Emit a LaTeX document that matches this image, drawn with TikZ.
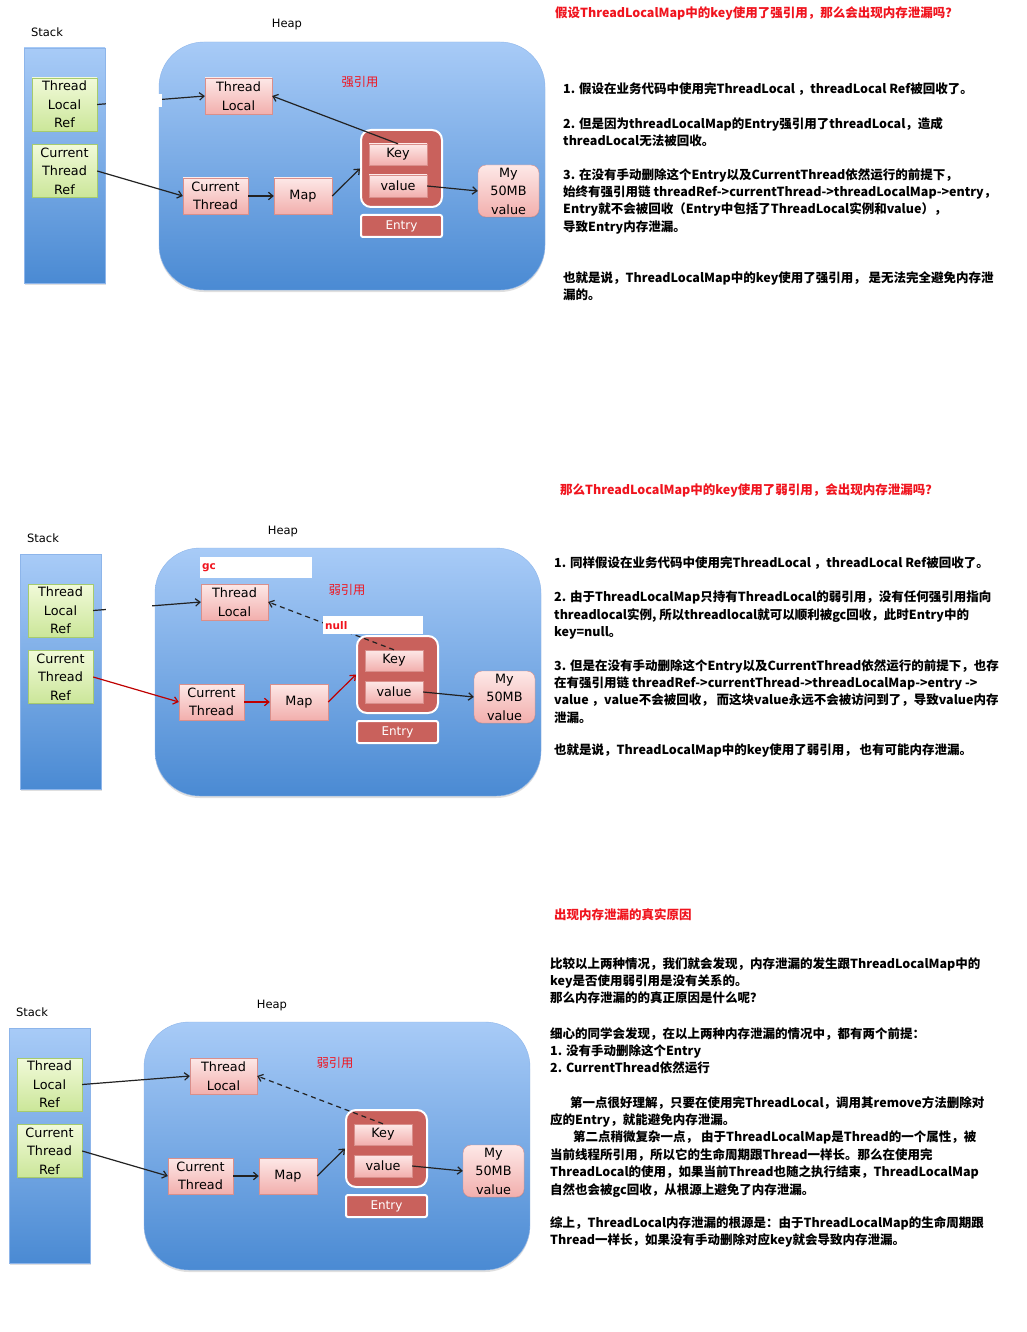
\documentclass[tikz,border=0pt]{standalone}
\usepackage{fontspec}
\setmainfont{DejaVu Sans}
\newfontfamily\cjk{Noto Sans CJK SC}
\usepackage{xcolor}
\usetikzlibrary{arrows.meta, positioning, shadows}

\definecolor{stacktop}{HTML}{A8CBF7}
\definecolor{stackbot}{HTML}{4A8AD3}
\definecolor{heapline}{HTML}{8DB5EA}
\definecolor{greentop}{HTML}{F1FAD9}
\definecolor{greenbot}{HTML}{CBE699}
\definecolor{greenline}{HTML}{A6CB6E}
\definecolor{pinktop}{HTML}{FDE8E7}
\definecolor{pinkbot}{HTML}{F2AFAD}
\definecolor{pinkline}{HTML}{D98F8B}
\definecolor{entryred}{HTML}{C9615C}
\definecolor{arrowgray}{HTML}{222222}
\definecolor{titlered}{HTML}{F0141E}

\tikzset{
  caption/.style={font=\fontsize{11.5}{14}\selectfont},
  stackcol/.style={draw=heapline, top color=stacktop, bottom color=stackbot,
    drop shadow={opacity=0.25, shadow xshift=1pt, shadow yshift=-1.5pt}},
  heapbg/.style={draw=heapline, top color=stacktop, bottom color=stackbot, rounded corners=45pt,
    drop shadow={opacity=0.25, shadow xshift=0pt, shadow yshift=-2pt}},
  box/.style={draw=pinkline, top color=pinktop, bottom color=pinkbot, inner sep=0pt,
    minimum height=36pt, align=center, font=\fontsize{12.8}{18.5}\selectfont,
    drop shadow={opacity=0.2, shadow xshift=0.5pt, shadow yshift=-1pt}},
  refbox/.style={box, draw=greenline, top color=greentop, bottom color=greenbot,
    minimum width=65pt, minimum height=53pt},
  entrybox/.style={draw=white, line width=2pt, fill=entryred, rounded corners=10pt,
    minimum width=81pt, minimum height=77pt,
    drop shadow={opacity=0.2, shadow xshift=0.5pt, shadow yshift=-1.5pt}},
  entrytag/.style={entrybox, rounded corners=2pt, minimum height=22pt, inner sep=0pt,
    text=white, font=\fontsize{12}{14}\selectfont},
  reflbl/.style={text=titlered, font=\cjk\fontsize{12.3}{14}\selectfont},
  flag/.style={fill=white, anchor=north west, inner sep=2pt, align=left,
    text=titlered, font=\bfseries\fontsize{10.5}{12}\selectfont},
  arr/.style={-{Straight Barb[length=4.5pt,width=7.5pt]}, line width=1.2pt, draw=arrowgray},
  weakarr/.style={arr, dash pattern=on 5pt off 4pt},
  note/.style={anchor=north west, inner sep=0pt, align=left,
    font=\cjk\bfseries\fontsize{12.5}{17.4}\selectfont},
  title/.style={note, text=titlered}
}

% one stack/heap picture: #1 key arrow, #2 colour of the thread chain
\newcommand{\memdiagram}[2]{%
  \node[caption] (stacklbl) at (47,32) {Stack};
  \node[caption] (heaplbl) at (287,25) {Heap};
  \path[stackcol] (24,48) rectangle (105,283);
  \path[heapbg] (159,42) rectangle (545,290);
  \node[refbox] (tlref) at (64.5,104.5) {Thread\\Local\\Ref};
  \node[refbox] (ctref) at (64.5,171) {Current\\Thread\\Ref};
  \node[box, minimum width=67pt] (tl) at (238.5,96) {Thread\\Local};
  \node[box, minimum width=65pt] (ct) at (215.5,196) {Current\\Thread};
  \node[box, minimum width=58pt] (map) at (303,196) {Map};
  \node[entrybox] (entry) at (401.5,168.5) {};
  \node[box, minimum width=58pt, minimum height=21pt] (key) at (398,154.5) {Key};
  \node[box, minimum width=58pt, minimum height=22pt] (val) at (398,186) {value};
  \node[entrytag] (tag) at (401.5,226) {Entry};
  \node[box, rounded corners=8pt, minimum width=61pt, minimum height=52pt] (my) at (508.5,191) {My\\50MB\\value};
  \draw[arr] (tlref.east) -- (tl.west);
  \draw[arr, draw=#2] (ctref.east) -- (ct.west);
  \draw[arr, draw=#2] (ct.east) -- (map.west);
  \draw[arr, draw=#2] (map.east) -- (entry.west);
  \draw[arr] (val.east) -- (my.west);
  \draw[#1] (key.north) -- (tl.east);
}

\begin{document}
\begin{tikzpicture}[x=1pt, y=-1pt]
    \fill[white] (0,0) rectangle (1026,1332);
    \useasboundingbox (0,0) rectangle (1026,1332);

    % Strong key
    \begin{scope}[shift={(0,0)}]
        \memdiagram{arr}{arrowgray}
        \node[reflbl] (kind) at (360,82) {强引用};
        \fill[white] (106,94) rectangle (162,107);
    \end{scope}
    \node[title] (q1) at (555,7) {假设ThreadLocalMap中的key使用了强引用，那么会出现内存泄漏吗？};
    \node[note] (q1a) at (563,82) {1. 假设在业务代码中使用完ThreadLocal ，threadLocal Ref被回收了。};
    \node[note] (q1b) at (563,117) {2. 但是因为threadLocalMap的Entry强引用了threadLocal，造成\\threadLocal无法被回收。};
    \node[note] (q1c) at (563,168) {3. 在没有手动删除这个Entry以及CurrentThread依然运行的前提下，\\始终有强引用链 threadRef->currentThread->threadLocalMap->entry，\\Entry就不会被回收（Entry中包括了ThreadLocal实例和value），\\导致Entry内存泄漏。};
    \node[note] (q1d) at (563,271) {也就是说，ThreadLocalMap中的key使用了强引用， 是无法完全避免内存泄\\漏的。};

    % Weak key
    \begin{scope}[shift={(-4,506)}]
        \memdiagram{weakarr}{red!75!black}
        \node[reflbl] (kind) at (351,84) {弱引用};
        \fill[white] (110,94) rectangle (156,108);
        \node[flag, text width=108pt, minimum height=21pt] (gc) at (204,51) {gc};
        \node[flag, text width=96pt, minimum height=18pt] (null) at (327,110) {null};
    \end{scope}
    \node[title] (q2) at (560,484) {那么ThreadLocalMap中的key使用了弱引用，会出现内存泄漏吗？};
    \node[note] (q2a) at (554,556) {1. 同样假设在业务代码中使用完ThreadLocal ，threadLocal Ref被回收了。};
    \node[note] (q2b) at (554,591) {2. 由于ThreadLocalMap只持有ThreadLocal的弱引用，没有任何强引用指向\\threadlocal实例, 所以threadlocal就可以顺利被gc回收，此时Entry中的\\key=null。};
    \node[note] (q2c) at (554,659) {3. 但是在没有手动删除这个Entry以及CurrentThread依然运行的前提下，也存\\在有强引用链 threadRef->currentThread->threadLocalMap->entry ->\\value ，value不会被回收， 而这块value永远不会被访问到了，导致value内存\\泄漏。};
    \node[note] (q2d) at (554,744) {也就是说，ThreadLocalMap中的key使用了弱引用， 也有可能内存泄漏。};

    % Real cause
    \begin{scope}[shift={(-15,980)}]
        \memdiagram{weakarr}{arrowgray}
        \node[reflbl] (kind) at (350,83) {弱引用};
    \end{scope}
    \node[title] (q3) at (554,908) {出现内存泄漏的真实原因};
    \node[note] (q3a) at (550,957) {比较以上两种情况，我们就会发现，内存泄漏的发生跟ThreadLocalMap中的\\key是否使用弱引用是没有关系的。\\那么内存泄漏的的真正原因是什么呢？};
    \node[note] (q3b) at (550,1027) {细心的同学会发现，在以上两种内存泄漏的情况中，都有两个前提：\\1. 没有手动删除这个Entry\\2. CurrentThread依然运行};
    \node[note] (q3c) at (550,1096) {\hspace*{20pt}第一点很好理解，只要在使用完ThreadLocal，调用其remove方法删除对\\应的Entry，就能避免内存泄漏。\\\hspace*{23pt}第二点稍微复杂一点， 由于ThreadLocalMap是Thread的一个属性，被\\当前线程所引用，所以它的生命周期跟Thread一样长。那么在使用完\\ThreadLocal的使用，如果当前Thread也随之执行结束，ThreadLocalMap\\自然也会被gc回收，从根源上避免了内存泄漏。};
    \node[note] (q3d) at (550,1216) {综上，ThreadLocal内存泄漏的根源是：由于ThreadLocalMap的生命周期跟\\Thread一样长，如果没有手动删除对应key就会导致内存泄漏。};
\end{tikzpicture}
\end{document}
